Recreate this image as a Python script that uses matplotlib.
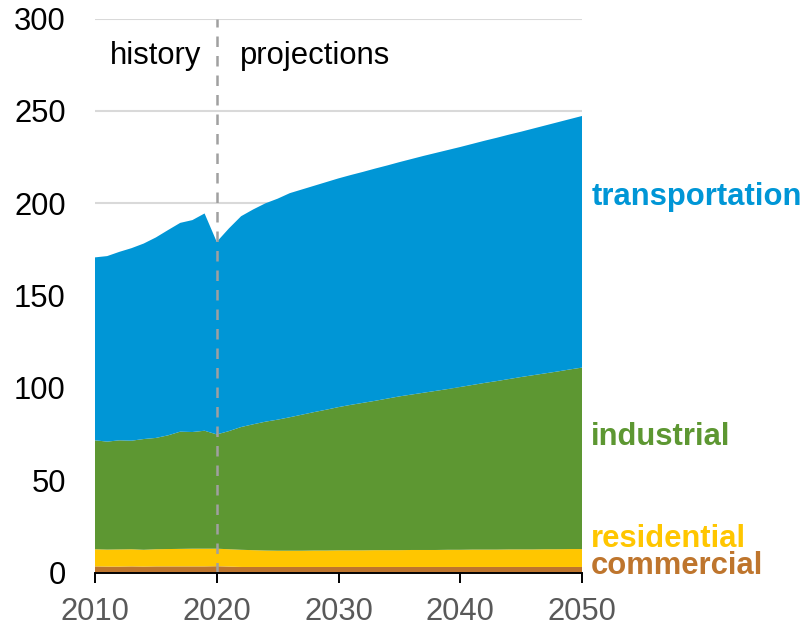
import matplotlib
matplotlib.use("Agg")
import matplotlib.pyplot as plt
import numpy as np

plt.rcParams['font.family'] = ['Liberation Sans', 'DejaVu Sans']

years = list(range(2010, 2051))

commercial = [3.3, 3.2, 3.2, 3.3, 3.2, 3.3, 3.3, 3.3, 3.3, 3.3, 3.4, 3.2,
              3.0, 3.0, 3.0, 3.0, 3.0, 3.0, 3.0, 3.0, 3.0, 3.0, 3.0, 3.0, 3.0, 3.0,
              3.0, 3.0, 3.0, 3.0, 3.0, 3.0, 3.0, 3.0, 3.0, 3.0, 3.0, 3.0, 3.0, 3.0, 3.0]

residential = [9.3, 9.2, 9.3, 9.3, 9.1, 9.3, 9.4, 9.5, 9.6, 9.6, 9.5, 9.4,
               9.3, 9.1, 8.9, 8.8, 8.8, 8.8, 8.9, 8.9, 9.0, 9.0, 9.0, 9.1, 9.1, 9.1,
               9.2, 9.2, 9.2, 9.3, 9.3, 9.4, 9.4, 9.4, 9.5, 9.5, 9.5, 9.6, 9.6, 9.7, 9.7]

industrial = [59.0, 58.5, 59.1, 58.8, 60.0, 60.3, 61.6, 63.5, 63.2, 63.9, 61.9, 64.0,
              66.5, 68.2, 69.8, 71.0, 72.3, 73.7, 75.0, 76.3, 77.6, 78.8, 79.9, 80.9,
              82.1, 83.3, 84.2, 85.2, 86.2, 87.1, 88.2, 89.2, 90.3, 91.3, 92.3, 93.4,
              94.4, 95.3, 96.3, 97.3, 98.3]

transportation = [99.1, 100.5, 102.1, 104.3, 105.9, 108.6, 111.2, 113.1, 114.8, 117.7,
                  104.3, 109.8, 114.2, 116.4, 118.3, 119.7, 121.4, 122.0, 122.6, 123.3,
                  123.9, 124.5, 125.1, 125.8, 126.3, 126.9, 127.6, 128.3, 128.9, 129.5,
                  130.0, 130.6, 131.2, 131.8, 132.4, 132.9, 133.6, 134.3, 135.0, 135.6, 136.3]

sector_names = ["commercial", "residential", "industrial", "transportation"]
colors = ["#BE752D", "#FFC600", "#5D9732", "#0096D6"]

x_ticks = [2010, 2020, 2030, 2040, 2050]
y_ticks = [0, 50, 100, 150, 200, 250, 300]

FS = 22.3

fig = plt.figure(figsize=(8.09, 6.27), dpi=100)
ax = fig.add_axes([95 / 809, 1 - 572.5 / 627, 487 / 809, 553.8 / 627])

ax.stackplot(years, commercial, residential, industrial, transportation,
             colors=colors, linewidth=0, zorder=2)

ax.set_xlim(2010, 2050)
ax.set_ylim(0, 300)
ax.set_xticks(x_ticks)
ax.set_yticks(y_ticks)
ax.yaxis.grid(True, color="#D9D9D9", linewidth=1.5, zorder=0)
ax.set_axisbelow(True)

for s in ["left", "right", "top"]:
    ax.spines[s].set_visible(False)
ax.spines["bottom"].set_linewidth(1.4)
ax.spines["bottom"].set_color("black")
ax.spines["bottom"].set_zorder(5)

ax.tick_params(axis="x", length=7.5, width=1.4, color="black", direction="out",
               labelsize=FS, labelcolor="#595959", pad=10.5)
ax.tick_params(axis="y", length=0, labelsize=FS, labelcolor="black", pad=21)

ax.axvline(2020, color="#A0A0A0", linewidth=1.8, linestyle=(0, (4.2, 3.6)), zorder=4)

ax.text(2018.7, 279.8, "history", ha="right", va="center", fontsize=FS, color="black")
ax.text(2021.9, 279.8, "projections", ha="left", va="center", fontsize=FS, color="black")

label_y = {"transportation": 199.1, "industrial": 68.9, "residential": 14.0, "commercial": -1.0}
for name, c in zip(sector_names, colors):
    ax.text(2050.75, label_y[name], name, ha="left", va="baseline", fontsize=FS,
            fontweight="bold", color=c, clip_on=False)

fig.savefig("out.png", dpi=100)
